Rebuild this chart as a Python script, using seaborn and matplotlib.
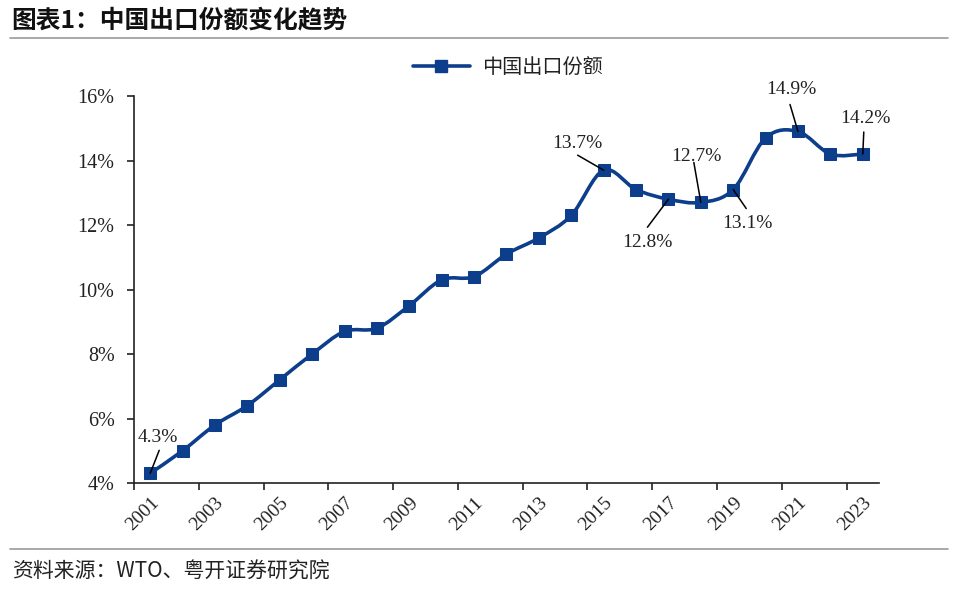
import numpy as np
import pandas as pd
import matplotlib
matplotlib.use("Agg")
import matplotlib.pyplot as plt
from matplotlib.path import Path
from matplotlib.patches import PathPatch
from matplotlib.lines import Line2D
import seaborn as sns

years = list(range(2001, 2024))
share = [4.3, 5.0, 5.8, 6.4, 7.2, 8.0, 8.7, 8.8, 9.5, 10.3, 10.4, 11.1, 11.6,
         12.3, 13.7, 13.1, 12.8, 12.7, 13.1, 14.7, 14.9, 14.2, 14.2]
yticks = [4, 6, 8, 10, 12, 14, 16]
series_name = "中国出口份额"
title = "图表1：中国出口份额变化趋势"
source = "资料来源：WTO、粤开证券研究院"
# labelled years: text offset and leader-line start offset (pixels, screen y down)
label_text_px = {2001: (8, -36), 2015: (-26, -27), 2017: (-21, 43), 2018: (-4, -46),
                 2019: (14, 34), 2021: (-7, -42), 2023: (3, -36)}
label_line_px = {2001: (9, -23), 2015: (-26, -15), 2017: (-21, 28), 2018: (-7, -40),
                 2019: (13, 19), 2021: (-8, -27), 2023: (1, -22)}

df = pd.DataFrame({"idx": np.arange(len(years)), "year": years, "share": share})

sns.set_theme(style="white")
plt.rcParams['font.family'] = ['Liberation Serif', 'Noto Sans CJK SC', 'DejaVu Sans']

color = "#0D3E8C"
fig = plt.figure(figsize=(9.6, 5.96), dpi=100)
ax = fig.add_axes([0.1396, 0.1896, 0.7760, 0.6493])

# smoothed line (cubic Bezier through data points)
x = df["idx"].to_numpy(dtype=float)
y = df["share"].to_numpy(dtype=float)
verts = [(x[0], y[0])]
codes = [Path.MOVETO]
n = len(x)
for i in range(n - 1):
    p0 = np.array([x[max(i - 1, 0)], y[max(i - 1, 0)]])
    p1 = np.array([x[i], y[i]])
    p2 = np.array([x[i + 1], y[i + 1]])
    p3 = np.array([x[min(i + 2, n - 1)], y[min(i + 2, n - 1)]])
    c1 = p1 + (p2 - p0) / 6.0
    c2 = p2 - (p3 - p1) / 6.0
    verts += [tuple(c1), tuple(c2), tuple(p2)]
    codes += [Path.CURVE4] * 3
ax.add_patch(PathPatch(Path(verts, codes), facecolor="none", edgecolor=color,
                       lw=2.6, zorder=2, capstyle="round", joinstyle="round"))

sns.lineplot(data=df, x="idx", y="share", ax=ax, linestyle="", marker="s",
             markersize=8.5, color=color, markeredgecolor=color, zorder=3,
             legend=False)

ax.set_xlim(-0.5, len(years) - 0.5)
ax.set_ylim(4, 16)
ax.set_yticks(yticks)
ax.set_yticklabels([f"{v}%" for v in yticks], fontsize=14.5, color="#222222")
ax.set_xticks(np.arange(-0.5, len(years) - 0.5, 2))
ax.set_xticklabels([])
ax.set_xticks(np.arange(0, len(years), 2), minor=True)
ax.set_xticklabels([str(years[i]) for i in range(0, len(years), 2)], minor=True,
                   rotation=45, ha="right", rotation_mode="anchor", fontsize=14,
                   color="#222222")
ax.tick_params(axis="x", which="major", direction="out", length=5, width=1.2,
               color="#222222", bottom=True)
ax.tick_params(axis="x", which="minor", length=0, pad=8, bottom=True)
ax.tick_params(axis="y", direction="out", length=5, width=1.2, color="#222222",
               left=True, pad=9)
ax.set_xlabel("")
ax.set_ylabel("")
for s in ["top", "right"]:
    ax.spines[s].set_visible(False)
for s in ["left", "bottom"]:
    ax.spines[s].set_color("#222222")
    ax.spines[s].set_linewidth(1.2)

px2pt = 72.0 / fig.dpi
for yr, (tx, ty) in label_text_px.items():
    i = years.index(yr)
    lx, ly = label_line_px[yr]
    ax.annotate("", xy=(i, share[i]), xytext=(lx * px2pt, -ly * px2pt),
                textcoords="offset points", zorder=5,
                arrowprops=dict(arrowstyle="-", color="black", lw=1.1,
                                shrinkA=0, shrinkB=0))
    ax.annotate(f"{share[i]}%", xy=(i, share[i]), xytext=(tx * px2pt, -ty * px2pt),
                textcoords="offset points", ha="center", va="center",
                fontsize=14, color="#222222", zorder=5)

handle = Line2D([], [], color=color, lw=2.6, marker="s", markersize=8.5)
leg = fig.legend([handle], [series_name], loc="center", bbox_to_anchor=(0.529, 0.886),
                 frameon=False, handlelength=2.8, handletextpad=0.6,
                 prop={"family": ["Noto Sans CJK SC"], "size": 14.5})
for t in leg.get_texts():
    t.set_color("#222222")

fig.text(0.012, 0.966, title, ha="left", va="center", fontsize=17.8,
         fontweight="bold", family=["Noto Sans CJK SC", "DejaVu Sans"], color="#111111")
fig.add_artist(Line2D([0.010, 0.988], [0.936, 0.936], color="#999999", lw=1.2))
fig.add_artist(Line2D([0.010, 0.988], [0.079, 0.079], color="#999999", lw=1.2))
fig.text(0.012, 0.040, source, ha="left", va="center", fontsize=15,
         style="italic", family=["Noto Sans CJK SC", "DejaVu Sans"], color="#222222")

fig.savefig("out.png", dpi=100)
